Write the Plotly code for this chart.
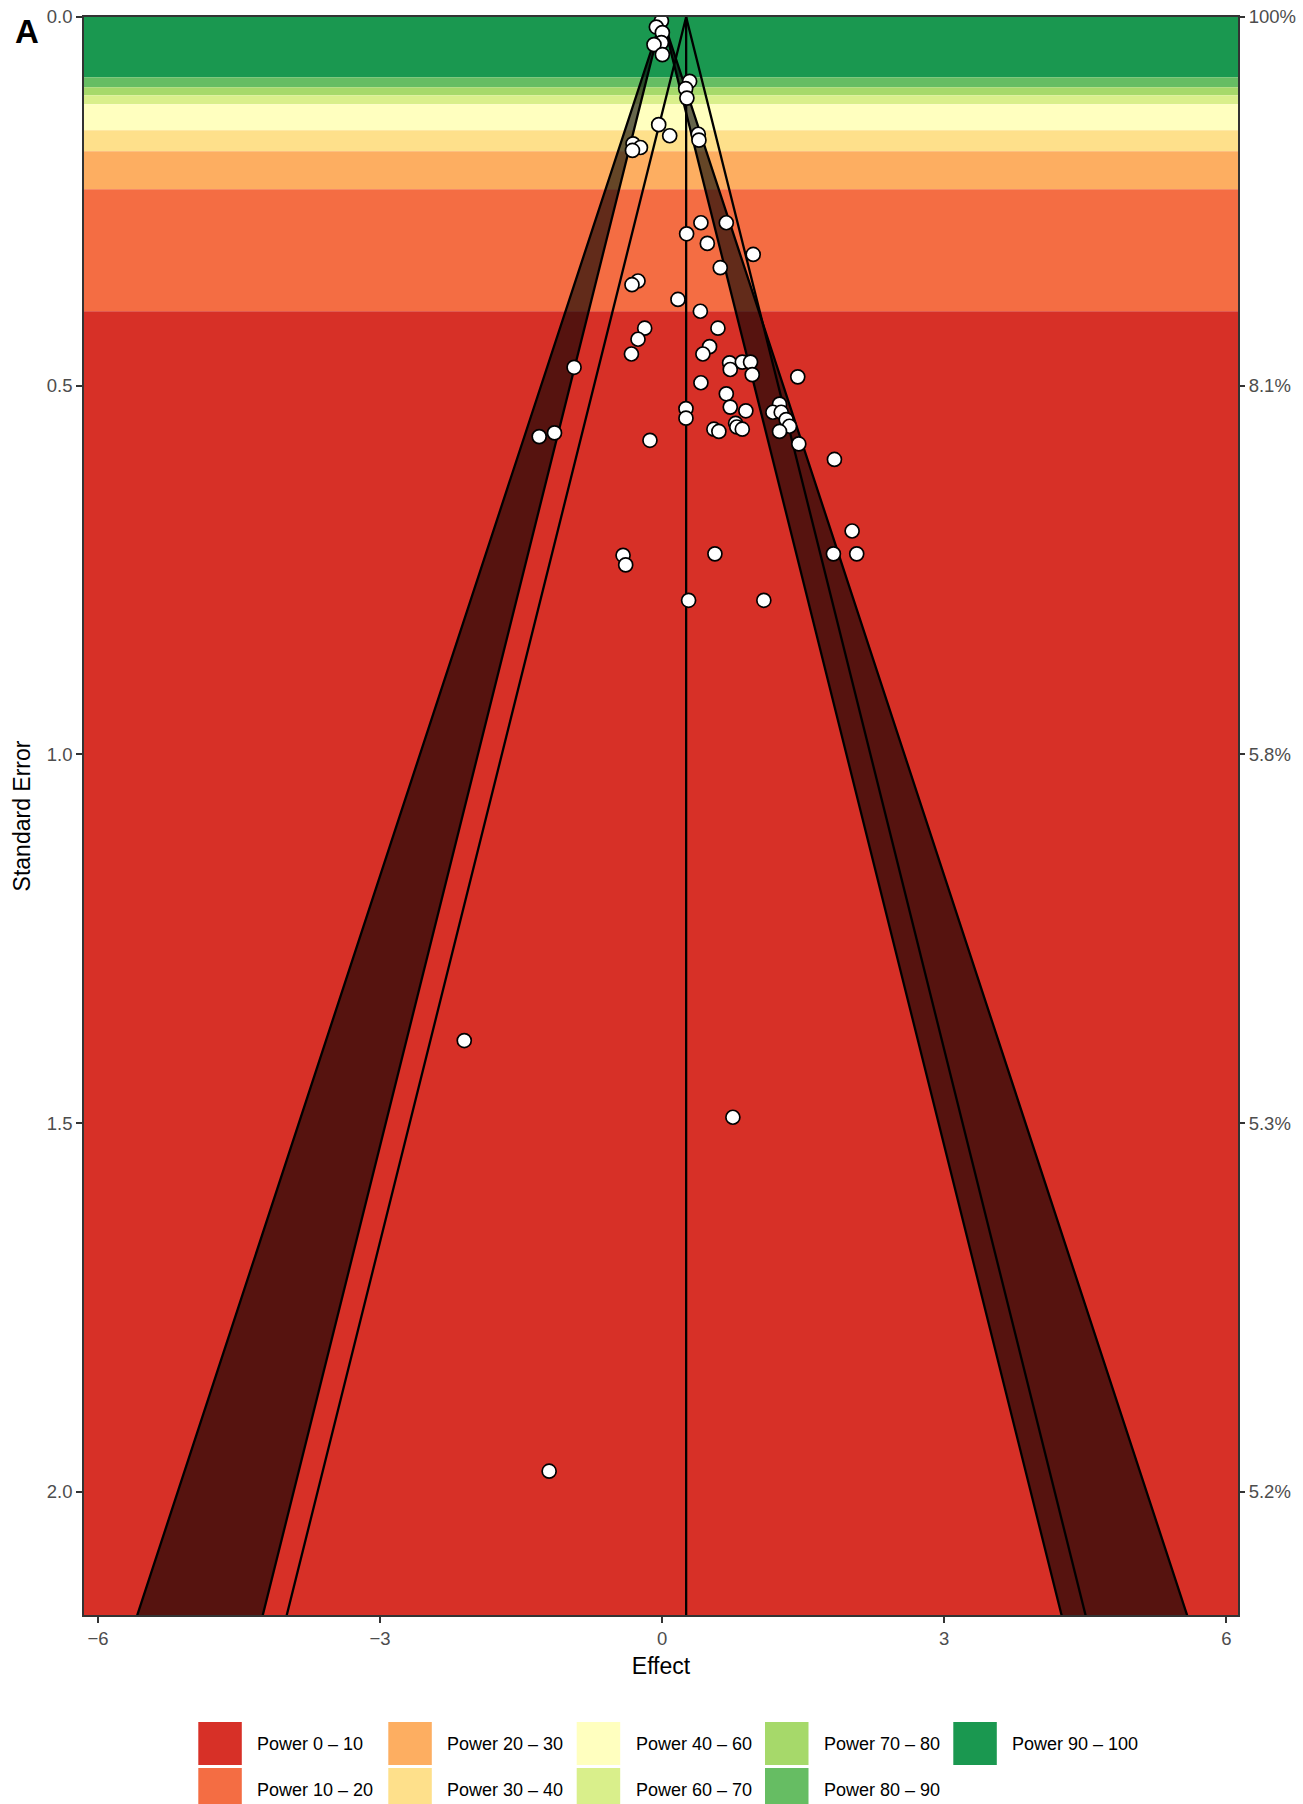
import plotly.graph_objects as go

# ---------------- data ----------------
effect = [
    -0.008, -0.062, 0.002, -0.008, -0.087, 0.002,
    0.292, 0.250, 0.263,
    -0.037, 0.080, 0.384, 0.391, -0.310, -0.231, -0.316,
    0.412, 0.682, 0.260, 0.480, 0.968, 0.618, -0.257, -0.321, 0.168, 0.406,
    -0.186, 0.593, -0.257, 0.504, 0.433, -0.327, -0.937, 0.717, 0.852, 0.940,
    0.724, 0.958, 1.442, 0.412, 0.682, 0.724, 0.253, 0.253, 0.890, 1.248,
    1.177, 1.266, 1.319, 1.354, 1.248, 0.781, 0.794, 0.852, 0.550, 0.603,
    -1.308, -1.145, -0.130, 1.453, 1.832, 2.020, 2.069, 1.821, 0.561, -0.416,
    -0.388, 0.281, 1.081,
    -2.105, 0.752, -1.202,
]
std_err = [
    0.0054, 0.0136, 0.0212, 0.0347, 0.0374, 0.051,
    0.0872, 0.0971, 0.110,
    0.146, 0.161, 0.159, 0.167, 0.172, 0.177, 0.181,
    0.279, 0.279, 0.294, 0.307, 0.322, 0.340, 0.358, 0.363, 0.383, 0.399,
    0.422, 0.422, 0.437, 0.447, 0.457, 0.457, 0.475, 0.469, 0.468, 0.468,
    0.478, 0.485, 0.488, 0.496, 0.511, 0.529, 0.531, 0.544, 0.534, 0.525,
    0.536, 0.536, 0.546, 0.555, 0.562, 0.551, 0.556, 0.559, 0.559, 0.562,
    0.569, 0.564, 0.574, 0.579, 0.600, 0.697, 0.728, 0.728, 0.728, 0.730,
    0.743, 0.791, 0.791,
    1.388, 1.492, 1.972,
]

summary_effect = 0.255
z_95 = 1.96
z_99 = 2.576
se_max = 2.167

# power bands (top -> bottom), SE edges
band_labels = ["Power 90 – 100", "Power 80 – 90", "Power 70 – 80", "Power 60 – 70",
               "Power 40 – 60", "Power 30 – 40", "Power 20 – 30", "Power 10 – 20",
               "Power 0 – 10"]
band_colors = ["#1a9850", "#66bd63", "#a6d96a", "#d9ef8b", "#ffffbf",
               "#fee08b", "#fdae61", "#f46d43", "#d73027"]
band_edges = [0.0, 0.0818, 0.0953, 0.1062, 0.1184, 0.1536, 0.1821, 0.2336, 0.3990, se_max]

se_ticks = [0.0, 0.5, 1.0, 1.5, 2.0]
se_tick_labels = ["0.0", "0.5", "1.0", "1.5", "2.0"]
power_tick_labels = ["100%", "8.1%", "5.8%", "5.3%", "5.2%"]
x_ticks = [-6, -3, 0, 3, 6]
x_tick_labels = ["\u22126", "\u22123", "0", "3", "6"]

legend_columns = [["Power 0 – 10", "Power 10 – 20"],
                  ["Power 20 – 30", "Power 30 – 40"],
                  ["Power 40 – 60", "Power 60 – 70"],
                  ["Power 70 – 80", "Power 80 – 90"],
                  ["Power 90 – 100"]]

# ---------------- figure ----------------
FONT = "Liberation Sans, Arial, sans-serif"
W, H = 1303, 1804
ML, MR, MT, MB = 84, 65, 17, 189
PW, PH = W - ML - MR, H - MT - MB

fig = go.Figure()

shapes = []
for lab, col, y0, y1 in zip(band_labels, band_colors, band_edges[:-1], band_edges[1:]):
    shapes.append(dict(type="rect", xref="paper", yref="y", x0=0, x1=1, y0=y0, y1=y1 if y1 < se_max else 3,
                       fillcolor=col, line=dict(width=0), layer="below"))

se_ext = 2.4
# significance contour regions (dark)
for sgn in (-1, 1):
    fig.add_trace(go.Scatter(
        x=[0, sgn * z_99 * se_ext, sgn * z_95 * se_ext, 0],
        y=[0, se_ext, se_ext, 0],
        mode="lines", fill="toself", fillcolor="rgba(0,0,0,0.6)",
        line=dict(color="black", width=2.3), hoverinfo="skip", showlegend=False))

# summary funnel
fig.add_trace(go.Scatter(
    x=[summary_effect - z_95 * se_ext, summary_effect, summary_effect + z_95 * se_ext],
    y=[se_ext, 0, se_ext], mode="lines",
    line=dict(color="black", width=2.3), hoverinfo="skip", showlegend=False))
fig.add_trace(go.Scatter(
    x=[summary_effect, summary_effect], y=[0, se_ext], mode="lines",
    line=dict(color="black", width=2.3), hoverinfo="skip", showlegend=False))

# studies
fig.add_trace(go.Scatter(
    x=effect, y=std_err, mode="markers",
    marker=dict(size=14, color="white", line=dict(color="black", width=1.7)),
    showlegend=False))

# dummy trace for right axis
fig.add_trace(go.Scatter(x=[summary_effect], y=[0], yaxis="y2", mode="markers",
                         marker=dict(opacity=0), hoverinfo="skip", showlegend=False))

# custom legend
def px_x(px):
    return (px - ML) / PW

def px_y(py):
    return (H - MB - py) / PH

annotations = []
col_x = [198.3, 388.3, 576.7, 765.0, 953.3]
row_y = [1722, 1768]
sw = 43.5
color_of = dict(zip(band_labels, band_colors))
for cx, labels in zip(col_x, legend_columns):
    for ry, lab in zip(row_y, labels):
        shapes.append(dict(type="rect", xref="paper", yref="paper",
                           x0=px_x(cx), x1=px_x(cx + sw), y0=px_y(ry), y1=px_y(ry + 43),
                           fillcolor=color_of[lab], line=dict(width=0)))
        annotations.append(dict(xref="paper", yref="paper", x=px_x(cx + 57), y=px_y(ry + 22),
                                text=lab, showarrow=False, xanchor="left", yanchor="middle",
                                font=dict(family=FONT, size=18, color="black")))

annotations.append(dict(xref="paper", yref="paper", x=px_x(13), y=px_y(31), text="<b>A</b>",
                        showarrow=False, xanchor="left", yanchor="middle",
                        font=dict(family=FONT, size=33, color="black")))

tickfont = dict(family=FONT, size=18.5, color="#4d4d4d")
fig.update_layout(
    width=W, height=H,
    margin=dict(l=ML, r=MR, t=MT, b=MB, autoexpand=False),
    paper_bgcolor="white", plot_bgcolor="white",
    shapes=shapes, annotations=annotations,
    xaxis=dict(range=[-6.149, 6.124], tickvals=x_ticks, ticktext=x_tick_labels,
               ticks="outside", ticklen=6, tickwidth=1.5, tickcolor="#333333",
               showgrid=False, zeroline=False, showline=True, mirror=True,
               linecolor="#333333", linewidth=1.6, tickfont=tickfont,
               title=dict(text="Effect", font=dict(family=FONT, size=23, color="black"), standoff=10)),
    yaxis=dict(range=[se_max, 0], tickvals=se_ticks, ticktext=se_tick_labels,
               ticks="outside", ticklen=6, tickwidth=1.5, tickcolor="#333333",
               showgrid=False, zeroline=False, showline=True, mirror=True,
               linecolor="#333333", linewidth=1.6, tickfont=tickfont,
               title=dict(text="Standard Error", font=dict(family=FONT, size=23, color="black"), standoff=10)),
    yaxis2=dict(range=[se_max, 0], overlaying="y", side="right", tickvals=se_ticks,
                ticktext=power_tick_labels, ticks="outside", ticklen=6, tickwidth=1.5,
                tickcolor="#333333", showgrid=False, zeroline=False, showline=False,
                tickfont=tickfont),
)

fig.write_html("out.html", config={"displayModeBar": False},
               post_script="document.body.style.margin='0';document.body.style.overflow='hidden';")
